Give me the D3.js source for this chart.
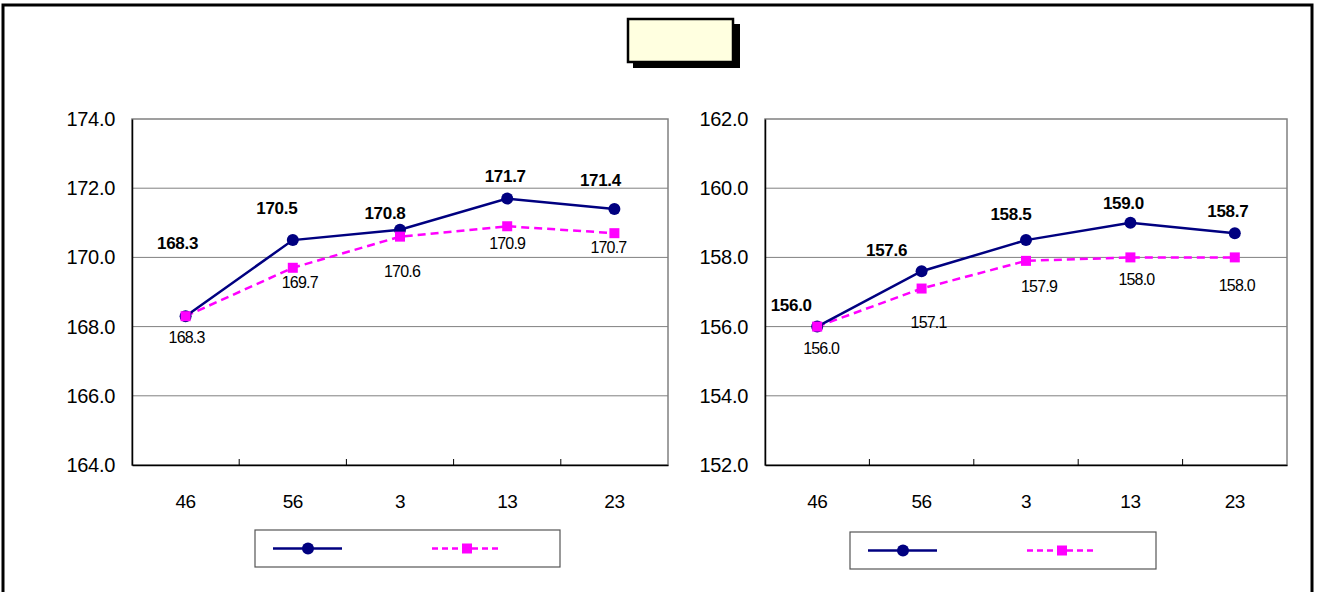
<!DOCTYPE html>
<html><head><meta charset="utf-8">
<script src="https://cdn.jsdelivr.net/npm/d3@7"></script>
<style>body{margin:0;background:#fff;}svg{display:block;}</style>
</head><body>
<svg id="c" width="1317" height="592"></svg>
<script>
// data
const categories = ["46", "56", "3", "13", "23"];
const leftSeries1 = [168.3, 170.5, 170.8, 171.7, 171.4];
const leftSeries2 = [168.3, 169.7, 170.6, 170.9, 170.7];
const rightSeries1 = [156.0, 157.6, 158.5, 159.0, 158.7];
const rightSeries2 = [156.0, 157.1, 157.9, 158.0, 158.0];
const leftTicks = [164, 166, 168, 170, 172, 174];
const rightTicks = [152, 154, 156, 158, 160, 162];
// label offsets (dx, dy) in px relative to marker — styling only
const leftOff1 = [[-8,-73],[-16,-32],[-15,-16],[-2,-22],[-14,-28]];
const leftOff2 = [[1,21],[7,15],[2,35],[0,17],[-6,14]];
const rightOff1 = [[-26,-21],[-35,-21],[-15,-26],[-7,-19],[-7,-22]];
const rightOff2 = [[4,22],[7,34],[13,26],[6,22],[2,28]];

const svg = d3.select("#c");
const FONT = "'Liberation Sans', Arial, sans-serif";

// outer border
svg.append("rect").attr("x",3).attr("y",5).attr("width",1309).attr("height",600)
  .attr("fill","none").attr("stroke","#000").attr("stroke-width",3);

// title box with shadow
svg.append("rect").attr("x",633).attr("y",24).attr("width",107).attr("height",44).attr("fill","#000");
svg.append("rect").attr("x",628).attr("y",19).attr("width",105).attr("height",43)
  .attr("fill","#FFFFE0").attr("stroke","#000").attr("stroke-width",2.5);

function panel(cfg){
  const g = svg.append("g");
  const x = d3.scaleBand().domain(categories).range([cfg.x0, cfg.x1]);
  const y = d3.scaleLinear().domain([cfg.ticks[0], cfg.ticks[cfg.ticks.length-1]]).range([cfg.y1, cfg.y0]);
  // plot frame
  g.append("rect").attr("x",cfg.x0).attr("y",cfg.y0).attr("width",cfg.x1-cfg.x0).attr("height",cfg.y1-cfg.y0)
    .attr("fill","#fff").attr("stroke","#808080").attr("stroke-width",1.5);
  // gridlines
  g.selectAll(".grid").data(cfg.ticks.slice(1,-1)).enter().append("line")
    .attr("x1",cfg.x0).attr("x2",cfg.x1).attr("y1",d=>y(d)).attr("y2",d=>y(d))
    .attr("stroke","#808080").attr("stroke-width",1);
  // y axis
  const ya = g.append("g").attr("transform",`translate(${cfg.x0},0)`)
    .call(d3.axisLeft(y).tickValues(cfg.ticks).tickFormat(d3.format(".1f")).tickSize(0).tickPadding(17));
  ya.select(".domain").attr("stroke","#000").attr("stroke-width",1.5);
  ya.selectAll("text").attr("font-family",FONT).attr("font-size",20).attr("fill","#000").attr("letter-spacing","-0.3px");
  // x axis
  const xa = g.append("g").attr("transform",`translate(0,${cfg.y1})`)
    .call(d3.axisBottom(x).tickSize(0).tickPadding(30));
  xa.select(".domain").attr("stroke","#000").attr("stroke-width",1.5);
  xa.selectAll("text").attr("font-family",FONT).attr("font-size",19).attr("fill","#000").attr("letter-spacing","-0.5px");
  // inner tick marks between categories
  g.selectAll(".xt").data(categories.slice(1)).enter().append("line")
    .attr("x1",d=>x(d)).attr("x2",d=>x(d)).attr("y1",cfg.y1).attr("y2",cfg.y1-6)
    .attr("stroke","#000").attr("stroke-width",1);

  const cx = (d,i)=>x(categories[i])+x.bandwidth()/2;
  const line = d3.line().x((d,i)=>cx(d,i)).y(d=>y(d));
  // series 2 (magenta dashed)
  g.append("path").attr("d",line(cfg.s2)).attr("fill","none").attr("stroke","#FF00FF")
    .attr("stroke-width",2.5).attr("stroke-dasharray","8,5");
  // series 1 (navy)
  g.append("path").attr("d",line(cfg.s1)).attr("fill","none").attr("stroke","#000080").attr("stroke-width",2.5);
  g.selectAll(".m1").data(cfg.s1).enter().append("circle")
    .attr("cx",cx).attr("cy",d=>y(d)).attr("r",6).attr("fill","#000080");
  g.selectAll(".m2").data(cfg.s2).enter().append("rect")
    .attr("x",(d,i)=>cx(d,i)-5).attr("y",d=>y(d)-5).attr("width",10).attr("height",10).attr("fill","#FF00FF");
  // labels
  g.selectAll(".l1").data(cfg.s1).enter().append("text")
    .attr("x",(d,i)=>cx(d,i)+cfg.off1[i][0]).attr("y",(d,i)=>y(d)+cfg.off1[i][1])
    .attr("text-anchor","middle").attr("dominant-baseline","central")
    .attr("font-family",FONT).attr("font-size",17).attr("font-weight","bold").attr("fill","#000")
    .attr("letter-spacing","-0.3px")
    .text(d=>d.toFixed(1));
  g.selectAll(".l2").data(cfg.s2).enter().append("text")
    .attr("x",(d,i)=>cx(d,i)+cfg.off2[i][0]).attr("y",(d,i)=>y(d)+cfg.off2[i][1])
    .attr("text-anchor","middle").attr("dominant-baseline","central")
    .attr("font-family",FONT).attr("font-size",16).attr("fill","#000").attr("letter-spacing","-0.8px")
    .text(d=>d.toFixed(1));
  // legend
  const L = cfg.legend;
  g.append("rect").attr("x",L.x).attr("y",L.y).attr("width",L.w).attr("height",L.h)
    .attr("fill","#fff").attr("stroke","#555").attr("stroke-width",1.2);
  const my = L.y + L.h/2;
  g.append("line").attr("x1",L.x+18).attr("x2",L.x+87).attr("y1",my).attr("y2",my)
    .attr("stroke","#000080").attr("stroke-width",2.5);
  g.append("circle").attr("cx",L.x+53).attr("cy",my).attr("r",6).attr("fill","#000080");
  g.append("line").attr("x1",L.x+177).attr("x2",L.x+246).attr("y1",my).attr("y2",my)
    .attr("stroke","#FF00FF").attr("stroke-width",2.5).attr("stroke-dasharray","6,4");
  g.append("rect").attr("x",L.x+207).attr("y",my-5).attr("width",10).attr("height",10).attr("fill","#FF00FF");
}

panel({x0:132, x1:668, y0:119, y1:465, ticks:leftTicks, s1:leftSeries1, s2:leftSeries2,
  off1:leftOff1, off2:leftOff2, legend:{x:255,y:530,w:305,h:37}});
panel({x0:765, x1:1287, y0:119, y1:465, ticks:rightTicks, s1:rightSeries1, s2:rightSeries2,
  off1:rightOff1, off2:rightOff2, legend:{x:850,y:532,w:306,h:37}});
</script>
</body></html>
